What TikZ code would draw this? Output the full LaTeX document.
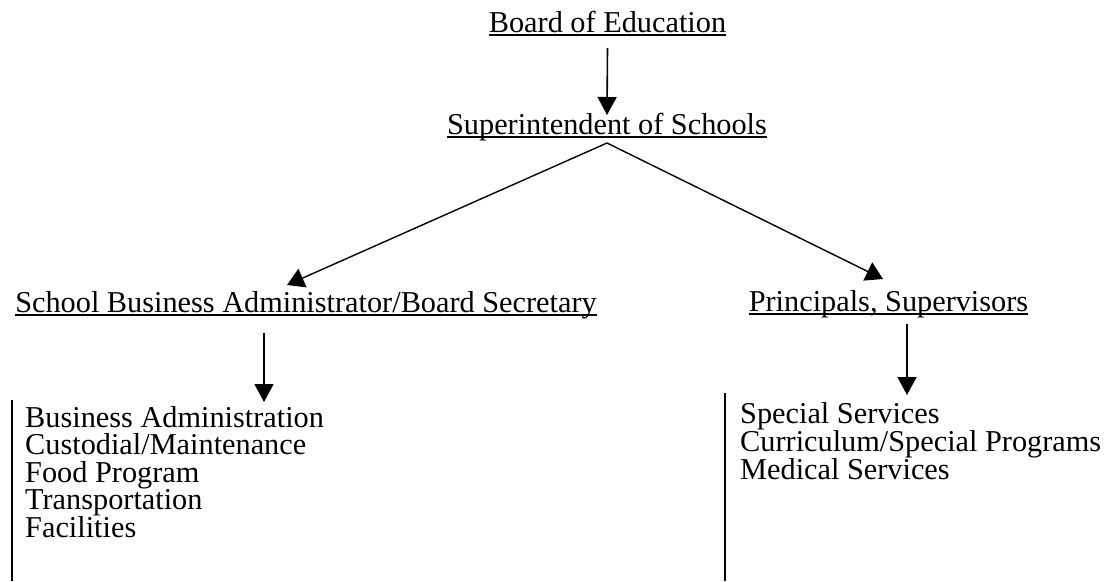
\documentclass[tikz,border=0pt]{standalone}
\usepackage{fontspec}
\setmainfont{Liberation Serif}
\usetikzlibrary{arrows.meta}
\begin{document}
\begin{tikzpicture}[x=1pt,y=-1pt,
  lbl/.style={inner sep=0pt,anchor=base,font=\fontsize{30.3}{27.7}\selectfont},
  item/.style={inner sep=0pt,anchor=base west,font=\fontsize{30.3}{27.7}\selectfont},
  uline/.style={line width=1.3pt},
  arr/.style={line width=1.6pt,-{Triangle[length=18pt,width=19pt]}},
  diag/.style={line width=1.4pt,-{Triangle[length=17pt,width=20pt]}},
  bar/.style={line width=1.6pt}]
\useasboundingbox (0,0) rectangle (1110,581);

% headings
\node[lbl] (board) at (607.5,32) {Board of Education};
\node[lbl] (super) at (607,134) {Superintendent of Schools};
\node[lbl] (sba) at (306,312) {School Business Administrator/Board Secretary};
\node[lbl] (prin) at (888.5,311) {Principals, Supervisors};

% underlines
\foreach \n in {board,super,sba,prin}
  \draw[uline] ([yshift=-3pt]\n.base west) -- ([yshift=-3pt]\n.base east);

% business side
\node[item] (b1) at (25,427) {Business Administration};
\node[item] (b2) at (25,454.5) {Custodial/Maintenance};
\node[item] (b3) at (25,482) {Food Program};
\node[item] (b4) at (25,509.5) {Transportation};
\node[item] (b5) at (25,537) {Facilities};
\coordinate (btop) at (12,400);
\coordinate (bbot) at (12,581);
\draw[bar] (btop) -- (bbot);

% instruction side
\node[item] (p1) at (740,423) {Special Services};
\node[item] (p2) at (740,451) {Curriculum/Special Programs};
\node[item] (p3) at (740,479) {Medical Services};
\coordinate (ptop) at (725,393);
\coordinate (pbot) at (725,581);
\draw[bar] (ptop) -- (pbot);

% reporting lines
\draw[arr] ([yshift=-16pt]board.base) -- ([yshift=19pt]super.base);
\draw[diag] ([yshift=-9pt]super.base) -- ([xshift=-19pt,yshift=27pt]sba.base);
\draw[diag] ([yshift=-9pt]super.base) -- ([xshift=-5.5pt,yshift=32pt]prin.base);
\draw[arr] ([xshift=-42pt,yshift=-21pt]sba.base) -- ([xshift=-42pt,yshift=-90pt]sba.base);
\draw[arr] ([xshift=18.5pt,yshift=-13pt]prin.base) -- ([xshift=18.5pt,yshift=-84pt]prin.base);
\end{tikzpicture}
\end{document}
